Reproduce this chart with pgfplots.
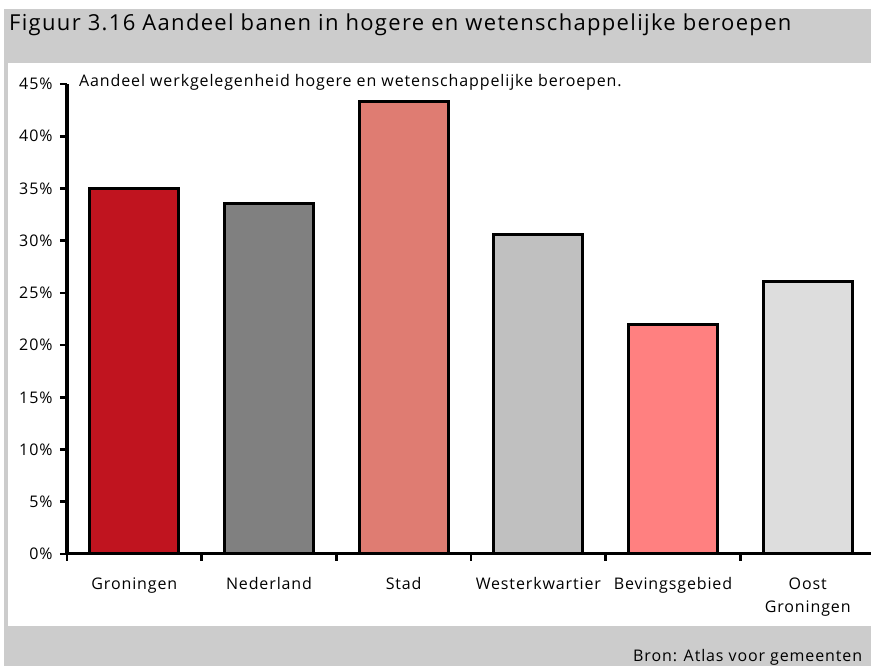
\documentclass[border=0pt]{standalone}
\usepackage{pgfplots}
\pgfplotsset{compat=1.18}
\usepackage{fontspec}
\setmainfont{Open Sans}[LetterSpace=5.5]
\newfontfamily\titlefont{Open Sans}[LetterSpace=6]
\definecolor{cGro}{HTML}{C0141F}
\definecolor{cNed}{HTML}{808080}
\definecolor{cStad}{HTML}{DF7C72}
\definecolor{cWes}{HTML}{C0C0C0}
\definecolor{cBev}{HTML}{FF8080}
\definecolor{cOost}{HTML}{DDDDDD}
\definecolor{band}{HTML}{CCCCCC}
\begin{document}
\begin{tikzpicture}[x=1pt,y=1pt]
\useasboundingbox (0,0) rectangle (871,666);
\clip (0,0) rectangle (871,666);
\fill[white] (0,0) rectangle (871,666);
\fill[band] (4,0) rectangle (880,657);
\fill[white] (8,40) rectangle (880,603);
\node[anchor=base west,inner sep=0pt,font=\titlefont\fontsize{22}{26}\selectfont] at (9,635) {Figuur 3.16 Aandeel banen in hogere en wetenschappelijke beroepen};
\node[anchor=base west,inner sep=0pt,font=\fontsize{16}{18}\selectfont] at (633,4.5) {Bron: Atlas voor gemeenten};
\begin{axis}[
  at={(67pt,112pt)}, anchor=south west,
  scale only axis, width=806pt, height=470pt,
  xmin=-0.5, xmax=5.485, ymin=0, ymax=45,
  axis x line=bottom, axis y line=left,
  axis line style={-, line width=3pt, black},
  clip=false,
  xtick={-0.5,0.5,1.5,2.5,3.5,4.5},
  xticklabels={},
  extra x ticks={0,1,2,3,4,5},
  extra x tick labels={Groningen,Nederland,Stad,Westerkwartier,Bevingsgebied,{Oost\\Groningen}},
  extra x tick style={major tick length=0pt, tick label style={align=center, yshift=-20pt}},
  ytick={0,5,10,15,20,25,30,35,40,45},
  yticklabels={0\%,5\%,10\%,15\%,20\%,25\%,30\%,35\%,40\%,45\%},
  tick align=outside, major tick length=7pt,
  tick style={line width=2.6pt, black},
  tick label style={font=\fontsize{16}{23}\selectfont, text=black},
  yticklabel style={xshift=-4pt},
  bar width=0.663,
]
\addplot[ybar, fill=cGro, draw=black, line width=3pt] coordinates {(0,35.0)};
\addplot[ybar, fill=cNed, draw=black, line width=3pt] coordinates {(1,33.6)};
\addplot[ybar, fill=cStad, draw=black, line width=3pt] coordinates {(2,43.3)};
\addplot[ybar, fill=cWes, draw=black, line width=3pt] coordinates {(3,30.6)};
\addplot[ybar, fill=cBev, draw=black, line width=3pt] coordinates {(4,22.0)};
\addplot[ybar, fill=cOost, draw=black, line width=3pt] coordinates {(5,26.1)};
\end{axis}
\node[anchor=base west,inner sep=0pt,font=\fontsize{16}{18}\selectfont] at (79,579) {Aandeel werkgelegenheid hogere en wetenschappelijke beroepen.};
\end{tikzpicture}
\end{document}
